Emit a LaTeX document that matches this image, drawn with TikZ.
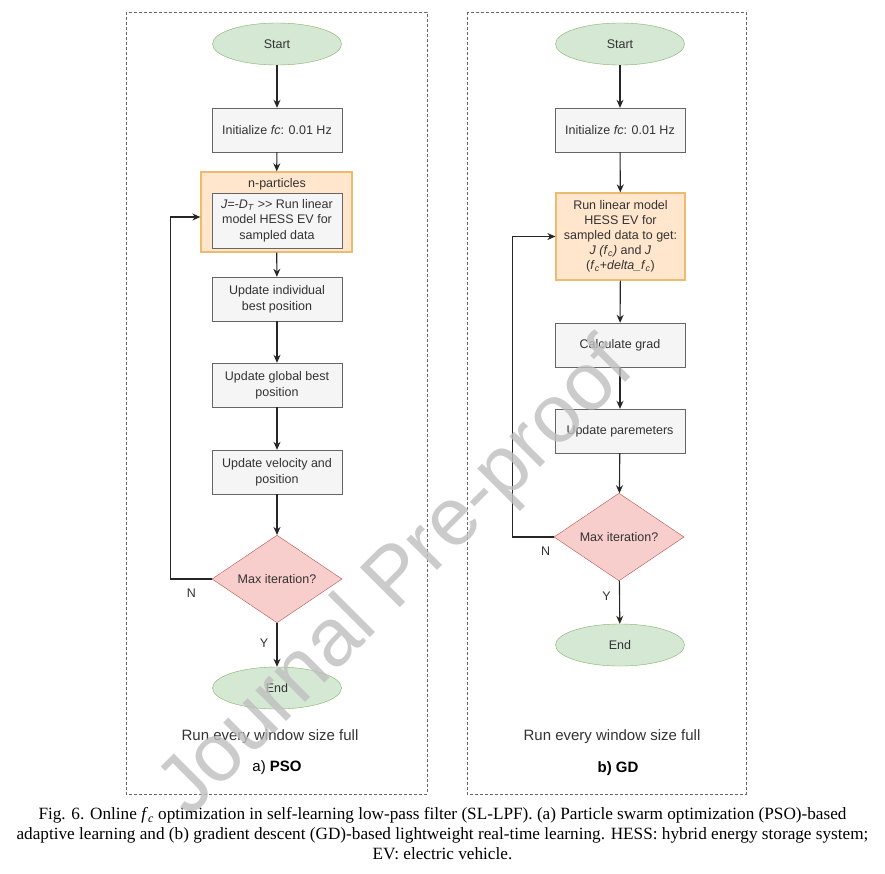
\documentclass[tikz,border=0pt]{standalone}
\usepackage{fontspec}
\setmainfont{Liberation Serif}
\setsansfont{Liberation Sans}
\usetikzlibrary{shapes.geometric,arrows.meta}
\definecolor{termfill}{HTML}{D5E8D4}
\definecolor{termline}{HTML}{82B366}
\definecolor{procfill}{HTML}{F5F5F5}
\definecolor{procline}{HTML}{666666}
\definecolor{loopfill}{HTML}{FFE6CC}
\definecolor{loopline}{HTML}{EDBB6E}
\definecolor{condfill}{HTML}{F8CECC}
\definecolor{condline}{HTML}{B85450}
\definecolor{inktext}{HTML}{333333}
\begin{document}
\begin{tikzpicture}[x=1pt, y=-1pt,
    every node/.style={font=\sffamily\fontsize{12.5}{15.6}\selectfont, text=inktext},
    term/.style={ellipse, draw=termline, fill=termfill, minimum width=129pt, minimum height=42pt, inner sep=0pt},
    proc/.style={rectangle, draw=procline, fill=procfill, minimum width=130pt, minimum height=44pt, inner sep=2pt, align=center},
    loopbox/.style={rectangle, draw=loopline, fill=loopfill, line width=1.3pt, align=center},
    cond/.style={diamond, draw=condline, fill=condfill, minimum width=130pt, minimum height=84pt, inner sep=0pt},
    flow/.style={-{Stealth[length=8pt,width=7pt]}, line width=1.1pt, black!85},
    frame/.style={draw=black!60, dash pattern=on 3pt off 2pt, line width=.8pt},
    big/.style={font=\sffamily\fontsize{15}{18}\selectfont}]
    \useasboundingbox (0,0) rectangle (885,873);
    \fill [white] (0,0) rectangle (885,873);

    % two panels
    \draw [frame] (126,12) rectangle (427,794);
    \draw [frame] (467,12) rectangle (746,794);

    % a) PSO
    \node [term] (ps) at (277,44) {Start};
    \node [proc] (pi) at (277,130) {Initialize \textit{fc}: 0.01 Hz};
    \node [loopbox, minimum width=151pt, minimum height=80pt] (pn) at (276.5,212) {};
    \node (pt) at (277,184) {n-particles};
    \node [proc, minimum height=55pt] (pj) at (277,220.5) {\textit{J=-D}\textsubscript{\textit{T}} >{}> Run linear\\model HESS EV for\\sampled data};
    \node [proc] (pu1) at (277,299) {Update individual\\best position};
    \node [proc] (pu2) at (277,385) {Update global best\\position};
    \node [proc] (pu3) at (277,472) {Update velocity and\\position};
    \node [cond] (pd) at (277,579) {Max iteration?};
    \node [term] (pe) at (277,688) {End};
    \node [big] (pr) at (270,737) {Run every window size full};
    \node [big, text=black] (pl) at (277,768) {a) \textbf{PSO}};

    \draw [flow] (ps) -- (pi);
    \draw [flow] (pi) -- (pn);
    \draw [flow] (pn) -- (pu1);
    \draw [flow] (pu1) -- (pu2);
    \draw [flow] (pu2) -- (pu3);
    \draw [flow] (pu3) -- (pd);
    \draw [flow] (pd) -- node [left=5pt, pos=.45] {Y} (pe);
    \draw [flow] (pd.west) -- node [below=6pt] {N} ++(-41,0) |- ([yshift=-5pt]pn.west);

    % b) GD
    \node [term] (gs) at (620,44) {Start};
    \node [proc] (gi) at (620,130) {Initialize \textit{fc}: 0.01 Hz};
    \node [loopbox, minimum width=129pt, minimum height=87pt, font=\sffamily\fontsize{12.5}{15}\selectfont] (go) at (620.5,236.5)
        {Run linear model\\HESS EV for\\sampled data to get:\\\textit{J (f}\textsubscript{\textit{c}}\textit{)} and \textit{J}\\(\textit{f}\textsubscript{\textit{c}}+\textit{delta\_f}\textsubscript{\textit{c}})};
    \node [proc] (gg) at (620,345) {Calculate grad};
    \node [proc] (gu) at (620,431) {Update paremeters};
    \node [cond] (gd) at (619,537) {Max iteration?};
    \node [term] (ge) at (620,645) {End};
    \node [big] (gr) at (612,737) {Run every window size full};
    \node [big, text=black] (gl) at (618,769) {\textbf{b) GD}};

    \draw [flow] (gs) -- (gi);
    \draw [flow] (gi) -- (go);
    \draw [flow] (go) -- (gg);
    \draw [flow] (gg) -- (gu);
    \draw [flow] (gu) -- (gd);
    \draw [flow] (gd) -- node [left=5pt, pos=.35] {Y} (ge);
    \draw [flow] (gd.west) -- node [below=6pt, pos=.2] {N} ++(-41,0) |- (go.west);

    % caption
    \node [font=\rmfamily\fontsize{17.2}{20}\selectfont, text=black, align=center] (cap) at (442.5,834)
        {Fig. 6. Online \textit{f}\textsubscript{\textit{c}} optimization in self-learning low-pass filter (SL-LPF). (a) Particle swarm optimization (PSO)-based\\
         adaptive learning and (b) gradient descent (GD)-based lightweight real-time learning. HESS: hybrid energy storage system;\\
         EV: electric vehicle.};

    % watermark
    \node [rotate=45, text=black!25, opacity=.8, font=\sffamily\fontsize{82}{82}\selectfont] (wm) at (398,580) {Journal Pre-proof};
\end{tikzpicture}
\end{document}
